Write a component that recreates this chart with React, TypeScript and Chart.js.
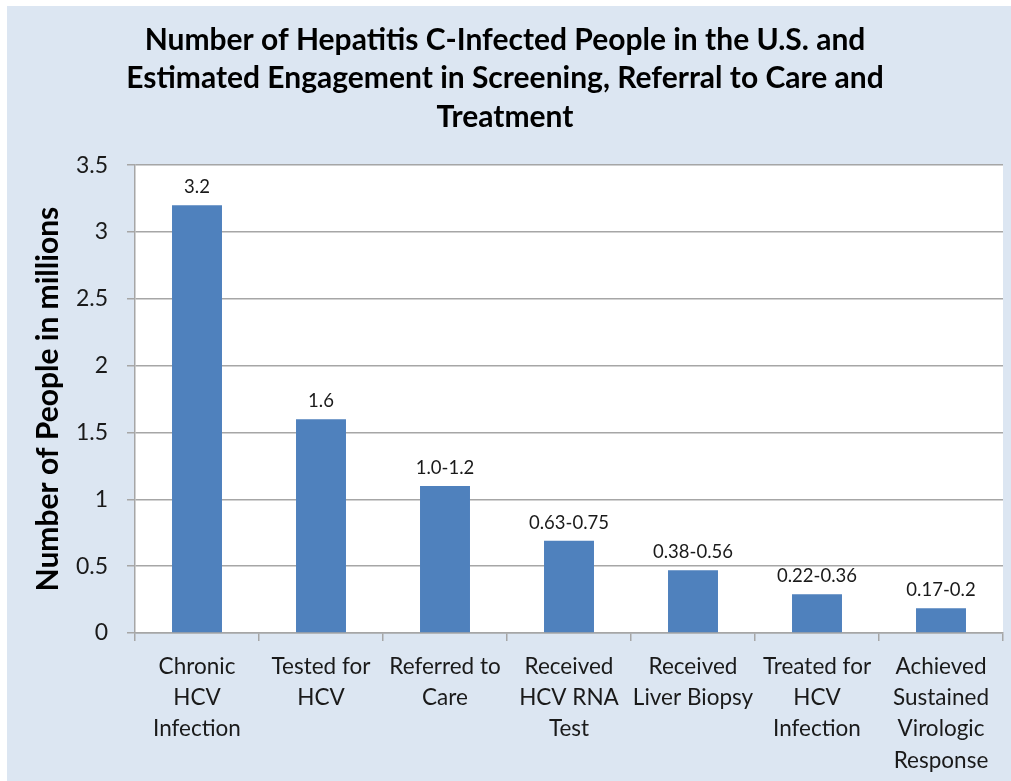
import React, { useEffect, useRef } from "react";
import { Chart, registerables } from "chart.js";

Chart.register(...registerables);

const titleLines = [
  "Number of Hepatitis C-Infected People in the U.S. and",
  "Estimated Engagement in Screening, Referral to Care and",
  "Treatment",
];

const categories = [
  ["Chronic", "HCV", "Infection"],
  ["Tested for", "HCV"],
  ["Referred to", "Care"],
  ["Received", "HCV RNA", "Test"],
  ["Received", "Liver Biopsy"],
  ["Treated for", "HCV", "Infection"],
  ["Achieved", "Sustained", "Virologic", "Response"],
];

// Estimates in millions; a range is drawn at its midpoint
const valueLabels = ["3.2", "1.6", "1.0-1.2", "0.63-0.75", "0.38-0.56", "0.22-0.36", "0.17-0.2"];

const yAxisTitle = "Number of People in millions";

const barValues = valueLabels.map((s) => {
  const parts = s.split("-").map(Number);
  return parts.reduce((a, b) => a + b, 0) / parts.length;
});

const FONT = "Lato, 'Open Sans', sans-serif";
const PANEL = "#dce6f2";
const GRID = "#a6a6a6";
const TEXT = "#1a1a1a";

const plotBackground = {
  id: "plotBackground",
  beforeDraw(chart: any) {
    const { ctx, chartArea, width, height } = chart;
    ctx.save();
    ctx.fillStyle = PANEL;
    ctx.fillRect(0, 0, width, height);
    ctx.fillStyle = "#ffffff";
    ctx.fillRect(chartArea.left, chartArea.top, chartArea.right - chartArea.left, chartArea.bottom - chartArea.top);
    ctx.restore();
  },
};

const barValueLabels = {
  id: "barValueLabels",
  afterDatasetsDraw(chart: any) {
    const { ctx } = chart;
    const meta = chart.getDatasetMeta(0);
    ctx.save();
    ctx.font = `18.5px ${FONT}`;
    ctx.fillStyle = TEXT;
    ctx.textAlign = "center";
    ctx.textBaseline = "middle";
    meta.data.forEach((bar: any, i: number) => {
      ctx.fillText(valueLabels[i], bar.x, bar.y - 18);
    });
    ctx.restore();
  },
};

export default function App() {
  const canvasRef = useRef<HTMLCanvasElement | null>(null);

  useEffect(() => {
    const canvas = canvasRef.current;
    if (!canvas) return;
    const chart = new Chart(canvas, {
      type: "bar",
      data: {
        labels: categories,
        datasets: [
          {
            data: barValues,
            backgroundColor: "#4f81bd",
            borderWidth: 0,
            categoryPercentage: 1,
            barPercentage: 0.403,
          },
        ],
      },
      options: {
        responsive: false,
        animation: false,
        layout: { padding: { top: 0, right: 8, bottom: 0, left: 0 } },
        plugins: {
          legend: { display: false },
          tooltip: { enabled: false },
          title: {
            display: true,
            text: titleLines,
            color: "#000000",
            font: { family: FONT, size: 30, weight: "bold", lineHeight: 1.28 },
            padding: { top: 15, bottom: 29 },
          },
        },
        scales: {
          x: {
            afterFit(scale: any) {
              scale.height = 148;
            },
            grid: {
              offset: true,
              drawOnChartArea: false,
              color: GRID,
              lineWidth: 1.5,
              tickLength: 8,
            },
            border: { color: GRID, width: 1.5 },
            ticks: {
              color: TEXT,
              padding: 10,
              maxRotation: 0,
              autoSkip: false,
              font: { family: FONT, size: 22.5, lineHeight: 1.39 },
            },
          },
          y: {
            min: 0,
            max: 3.5,
            afterFit(scale: any) {
              scale.width = 128;
            },
            grid: { color: GRID, lineWidth: 1.5, tickLength: 8 },
            border: { color: GRID, width: 1.5 },
            ticks: {
              stepSize: 0.5,
              color: TEXT,
              padding: 19,
              font: { family: FONT, size: 23 },
              callback: (v: any) => String(Number(v)),
            },
            title: {
              display: true,
              text: yAxisTitle,
              color: "#000000",
              font: { family: FONT, size: 30, weight: "bold" },
              padding: { top: 23, bottom: 0 },
            },
          },
        },
      },
      plugins: [plotBackground, barValueLabels],
    });
    return () => chart.destroy();
  }, []);

  return (
    <div style={{ position: "absolute", left: 7, top: 6, width: 1004, height: 775, background: PANEL }}>
      <canvas ref={canvasRef} width={1004} height={775} style={{ display: "block" }} />
    </div>
  );
}
